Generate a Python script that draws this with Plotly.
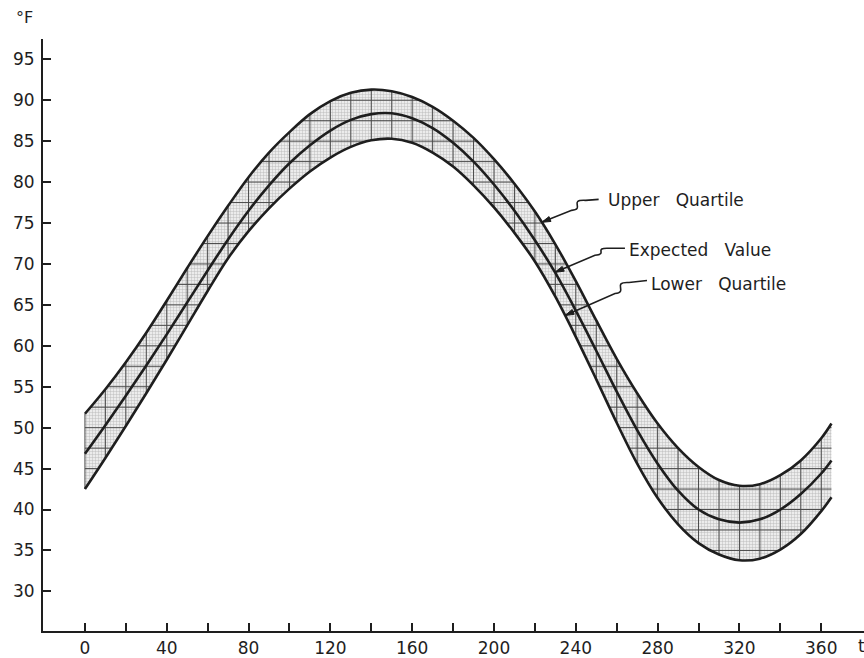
import numpy as np
import plotly.graph_objects as go

# ---- data (day of year t, temperature °F) ----
days = [0, 10, 20, 30, 40, 50, 60, 70, 80, 90, 100, 110, 120, 130, 140, 150, 160, 170, 180,
        190, 200, 210, 220, 230, 240, 250, 260, 270, 280, 290, 300, 310, 320, 330, 340, 350, 360, 365]
upper_q = [51.7, 54.7, 58.0, 61.6, 65.5, 69.5, 73.4, 77.1, 80.6, 83.6, 86.1, 88.3, 89.9, 90.9, 91.3, 91.1,
           90.4, 89.2, 87.5, 85.4, 82.8, 79.8, 76.4, 72.4, 67.9, 63.1, 58.4, 54.2, 50.5, 47.5, 45.2, 43.6,
           42.9, 43.1, 44.2, 46.0, 48.7, 50.5]
expected = [46.8, 50.3, 53.9, 57.6, 61.4, 65.3, 69.2, 73.0, 76.5, 79.6, 82.3, 84.5, 86.3, 87.6, 88.3, 88.4,
            87.8, 86.6, 84.8, 82.5, 79.7, 76.5, 72.9, 68.9, 64.3, 59.4, 54.4, 49.7, 45.6, 42.3, 40.0, 38.8,
            38.4, 38.8, 40.0, 41.9, 44.4, 46.0]
lower_q = [42.5, 46.3, 50.2, 54.2, 58.3, 62.5, 66.7, 70.7, 74.0, 76.8, 79.2, 81.3, 83.0, 84.3, 85.1, 85.3,
           84.8, 83.6, 81.9, 79.6, 76.9, 73.8, 70.3, 66.0, 61.1, 55.9, 50.6, 45.6, 41.4, 38.2, 35.9, 34.5,
           33.8, 34.0, 35.1, 37.0, 39.8, 41.5]

x_tickvals = [0, 40, 80, 120, 160, 200, 240, 280, 320, 360]
x_minor = [20, 60, 100, 140, 180, 220, 260, 300, 340]
y_tickvals = [30, 35, 40, 45, 50, 55, 60, 65, 70, 75, 80, 85, 90, 95]
labels = ["Upper&nbsp;&nbsp;&nbsp;Quartile", "Expected&nbsp;&nbsp;&nbsp;Value", "Lower&nbsp;&nbsp;&nbsp;Quartile"]
label_days = [223.3, 229.8, 234.7]

INK = "#1e1e1e"
FONT = "DejaVu Sans"

fig = go.Figure()

# band fill (graph-paper texture)
fig.add_trace(go.Scatter(x=days, y=lower_q, mode="lines", line=dict(width=0, shape="spline"),
                         hoverinfo="skip", showlegend=False))
fig.add_trace(go.Scatter(x=days, y=upper_q, mode="lines", line=dict(width=0, shape="spline"),
                         fill="tonexty", fillcolor="rgba(0,0,0,0)",
                         fillpattern=dict(shape="+", size=3, solidity=0.3, fgcolor="#8a8a8a",
                                          bgcolor="#ececec"),
                         hoverinfo="skip", showlegend=False))

# coarse grid inside the band, derived from the band limits
lo_f = lambda v: np.interp(v, days, lower_q)
up_f = lambda v: np.interp(v, days, upper_q)
vx, vy = [], []
for d in range(0, 361, 10):
    vx += [d, d, None]
    vy += [float(lo_f(d)), float(up_f(d)), None]
xf = np.linspace(days[0], days[-1], 36501)
lo_a, up_a = lo_f(xf), up_f(xf)
hx, hy = [], []
for lev in np.arange(30, 95.01, 2.5):
    m = (lo_a <= lev) & (up_a >= lev)
    if not m.any():
        continue
    idx = np.flatnonzero(m)
    breaks = np.flatnonzero(np.diff(idx) > 1)
    starts = np.r_[idx[0], idx[breaks + 1]]
    ends = np.r_[idx[breaks], idx[-1]]
    for s, e in zip(starts, ends):
        hx += [float(xf[s]), float(xf[e]), None]
        hy += [float(lev), float(lev), None]
fig.add_trace(go.Scatter(x=vx + hx, y=vy + hy, mode="lines", line=dict(color="#4a4a4a", width=1),
                         hoverinfo="skip", showlegend=False))

# the three curves
for ys in (upper_q, expected, lower_q):
    fig.add_trace(go.Scatter(x=days, y=ys, mode="lines", line=dict(color=INK, width=2.6, shape="spline"),
                             showlegend=False))

# squiggly leader arrows and labels
squiggles = [
    ("M 0,0 L 30,12 C 44,13 26,23 44,22 L 57,23", (64, 22)),
    ("M 0,0 L 40,17 C 54,18 37,25 55,24 L 70,24", (72, 22)),
    ("M 0,0 L 50,22 C 64,23 46,34 64,33 L 82,35", (84, 32)),
]
for series, d, (path, (dx, dy)), text in zip((upper_q, expected, lower_q), label_days, squiggles, labels):
    yv = float(np.interp(d, days, series))
    dirx, diry = [float(v) for v in path.split("L ")[1].split(" ")[0].split(",")]
    n = (dirx ** 2 + diry ** 2) ** 0.5
    ux, uy = dirx / n, diry / n
    bx, by = 9 * ux, 9 * uy
    px, py = -uy * 2.6, ux * 2.6
    head = f"M 0,0 L {bx+px:.2f},{by+py:.2f} L {bx-px:.2f},{by-py:.2f} Z"
    fig.add_shape(type="path", xref="x", yref="y", xsizemode="pixel", ysizemode="pixel",
                  xanchor=d, yanchor=yv, path=path, line=dict(color=INK, width=1.6))
    fig.add_shape(type="path", xref="x", yref="y", xsizemode="pixel", ysizemode="pixel",
                  xanchor=d, yanchor=yv, path=head, line=dict(color=INK, width=1), fillcolor=INK)
    fig.add_annotation(x=d, y=yv, xref="x", yref="y", text=text, showarrow=False,
                       xanchor="left", yanchor="middle", xshift=dx, yshift=dy,
                       font=dict(family=FONT, size=17, color=INK))

fig.add_annotation(x=0, y=1, xref="paper", yref="paper", text="°F", showarrow=False,
                   xanchor="left", yanchor="middle", xshift=-29, yshift=22,
                   font=dict(family=FONT, size=16, color=INK))
fig.add_annotation(x=1, y=0, xref="paper", yref="paper", text="t", showarrow=False,
                   xanchor="left", yanchor="middle", xshift=-8, yshift=-15,
                   font=dict(family=FONT, size=17, color=INK))

fig.update_layout(
    width=864, height=658,
    margin=dict(l=43, r=0, t=39, b=27),
    paper_bgcolor="white", plot_bgcolor="white",
    font=dict(family=FONT, size=17, color=INK),
    xaxis=dict(range=[-20.5, 380.9], showgrid=False, zeroline=False, showline=True, automargin=False,
               linecolor=INK, linewidth=2, ticks="inside", ticklen=8, tickwidth=2, tickcolor=INK,
               tickvals=x_tickvals, ticktext=[str(v) for v in x_tickvals], ticklabelstandoff=1,
               minor=dict(tickvals=x_minor, ticks="inside", ticklen=8, tickwidth=2, tickcolor=INK)),
    yaxis=dict(range=[25.16, 97.48], showgrid=False, zeroline=False, showline=True, automargin=False,
               linecolor=INK, linewidth=2, ticks="inside", ticklen=8, tickwidth=2, tickcolor=INK,
               tickvals=y_tickvals, ticktext=[str(v) for v in y_tickvals], ticklabelstandoff=3),
)

fig.write_html("out.html", config={"displayModeBar": False},
               post_script="document.body.style.margin='0';document.body.style.overflow='hidden';")
